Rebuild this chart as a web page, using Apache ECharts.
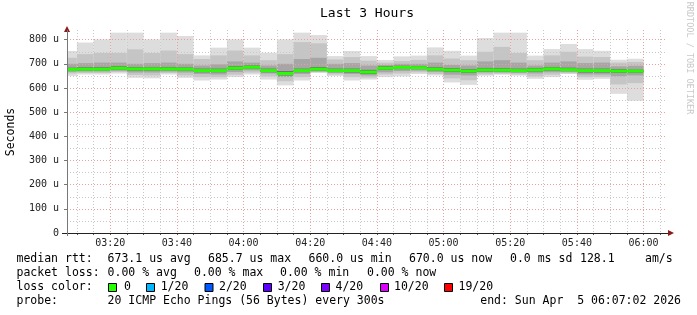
<!DOCTYPE html>
<html><head><meta charset="utf-8">
<script src="https://cdn.jsdelivr.net/npm/echarts@6/dist/echarts.min.js"></script>
<style>html,body{margin:0;padding:0;background:#fff}#c{width:697px;height:315px}</style>
</head><body><div id="c"></div>
<script>
// ---- data (microseconds) ----
const barEnd = ['03:10','03:15','03:20','03:25','03:30','03:35','03:40','03:45','03:50','03:55',
  '04:00','04:05','04:10','04:15','04:20','04:25','04:30','04:35','04:40','04:45',
  '04:50','04:55','05:00','05:05','05:10','05:15','05:20','05:25','05:30','05:35',
  '05:40','05:45','05:50','05:55','06:00'];
const maxV = [753,788,801,829,829,801,829,815,735,767,801,767,746,801,829,819,732,753,732,716,731,734,768,754,734,807,829,829,734,761,782,761,754,717,721];
const hi1  = [725,740,745,745,760,745,755,740,720,735,755,735,715,740,790,785,718,728,713,705,712,716,735,722,715,750,770,745,715,735,750,730,728,705,708];
const hi2  = [700,703,705,705,700,703,705,700,693,698,710,705,693,700,720,725,700,703,693,695,700,700,705,695,693,710,715,705,693,705,710,703,705,690,692];
const hi3  = [684,686,686,690,687,686,687,685,680,680,690,693,680,670,680,687,680,680,675,690,692,691,686,682,678,683,682,680,683,687,684,680,680,678,676];
const median = [677,678,678,682,679,679,679,678,672,672,682,686,672,660,672,678,672,672,666,682,685,684,678,674,670,675,674,672,675,679,676,672,672,670,670];
const lo3  = [672,672,672,676,672,672,673,672,665,665,675,680,665,652,665,672,666,664,658,675,678,678,672,666,662,668,668,666,668,672,670,664,664,662,663];
const lo2  = [666,668,668,671,664,664,668,664,658,656,666,673,660,645,658,668,662,658,652,665,670,672,666,655,652,664,664,662,660,665,666,656,656,648,652];
const lo1  = [660,662,662,666,654,652,662,652,645,645,655,664,648,628,645,665,656,645,643,656,660,665,658,640,632,656,659,656,648,655,661,645,646,615,620];
const minV = [650,656,656,660,642,640,656,642,631,635,645,656,635,611,631,663,650,631,635,645,648,658,652,623,613,651,655,651,638,645,658,634,638,576,547];

const xLabelTicks = ['03:20','03:40','04:00','04:20','04:40','05:00','05:20','05:40','06:00'];
const yTickValues = [0,100,200,300,400,500,600,700,800];
const yMinorValues = [50,150,250,350,450,550,650,750];
const startTime = '03:07:02', endTime = '06:07:02';
const stepMin = 5;

const medianStats = ['673.1 us avg','685.7 us max','660.0 us min','670.0 us now','0.0 ms sd','128.1','am/s'];
const lossStats = ['0.00 % avg','0.00 % max','0.00 % min','0.00 % now'];
const lossLabels = ['0','1/20','2/20','3/20','4/20','10/20','19/20'];
const lossColors = ['#26ff00','#00b8ff','#0059ff','#5e00ff','#7e00ff','#dd00ff','#ff0000'];
const probeText = '20 ICMP Echo Pings (56 Bytes) every 300s';
const endText = 'end: Sun Apr  5 06:07:02 2026';

// ---- helpers ----
function toMin(s){const p=s.split(':').map(Number);return p[0]*60+p[1]+(p[2]||0)/60;}
function fmt(v){const m=Math.round(v);const h=Math.floor(m/60),mm=m%60;return String(h).padStart(2,'0')+':'+String(mm).padStart(2,'0');}
const tStart=toMin(startTime), tEnd=toMin(endTime);
const xMinorTicks=[];for(let t=Math.ceil(tStart/stepMin)*stepMin;t<=tEnd;t+=stepMin)xMinorTicks.push(t);
const xLabelVals=xLabelTicks.map(toMin);

const smokeData = barEnd.map((t,i)=>[toMin(t),maxV[i],hi1[i],hi2[i],hi3[i],median[i],lo3[i],lo2[i],lo1[i],minV[i]]);
const medData = barEnd.map((t,i)=>[toMin(t),median[i]]);

const FONT='DejaVu Sans Mono';
const bands=[[1,9,'#dddddd'],[2,8,'#c5c5c5'],[3,7,'#a6a6a6'],[4,6,'#6f6f6f']];
function renderSmoke(params,api){
  const t=api.value(0);const cs=params.coordSys;const children=[];
  bands.forEach(b=>{
    const p1=api.coord([t-stepMin,api.value(b[0])]);const p2=api.coord([t,api.value(b[1])]);
    const r=echarts.graphic.clipRectByRect({x:p1[0],y:p1[1],width:p2[0]-p1[0],height:p2[1]-p1[1]},{x:cs.x,y:cs.y,width:cs.width,height:cs.height});
    if(r)children.push({type:'rect',shape:r,style:{fill:b[2]}});
  });
  return {type:'group',children};
}
function renderMedian(params,api){
  const t=api.value(0);const cs=params.coordSys;
  const p1=api.coord([t-stepMin,api.value(1)]);const p2=api.coord([t,api.value(1)]);
  const r=echarts.graphic.clipRectByRect({x:p1[0],y:p1[1]-1.5,width:p2[0]-p1[0],height:3},{x:cs.x,y:cs.y,width:cs.width,height:cs.height});
  return r?{type:'rect',shape:r,style:{fill:lossColors[0]}}:null;
}

const txt=(x,y,text,extra)=>Object.assign({type:'text',x,y,z:100,style:Object.assign({text,fontFamily:FONT,fontSize:11.5,fill:'#000',align:'left',verticalAlign:'middle'},extra||{})});
const gfx=[];
gfx.push(txt(367,14,'Last 3 Hours',{fontSize:13,align:'center'}));
gfx.push(Object.assign(txt(11,132,'Seconds',{fontSize:11.5,align:'center'}),{rotation:Math.PI/2}));
gfx.push(Object.assign(txt(689,58,'RRDTOOL / TOBI OETIKER',{fontSize:8.5,align:'center',fill:'#c8c8c8'}),{rotation:-Math.PI/2}));
// legend lines
const medX=[107.6,208,308.5,409,510,580,645];
gfx.push(txt(16.5,259.5,'median rtt:'));
medianStats.forEach((s,i)=>gfx.push(txt(medX[i],259.5,s)));
const lossX=[107.6,194,280,367];
gfx.push(txt(16.5,273.5,'packet loss:'));
lossStats.forEach((s,i)=>gfx.push(txt(lossX[i],273.5,s)));
gfx.push(txt(16.5,287.5,'loss color:'));
const boxX=[108.5,146.5,205,263.5,321.5,380.5,444.5];
const lblX=[124,160.7,219,277.7,335.5,394,458.5];
lossLabels.forEach((s,i)=>{
  gfx.push({type:'rect',z:100,shape:{x:boxX[i],y:283.5,width:8,height:8},style:{fill:lossColors[i],stroke:'#000',lineWidth:1}});
  gfx.push(txt(lblX[i],287.5,s));
});
gfx.push(txt(16.5,301.5,'probe:'));
gfx.push(txt(107.6,301.5,probeText));
gfx.push(txt(681,301.5,endText,{align:'right'}));
// axis arrows
gfx.push({type:'polygon',z:100,shape:{points:[[64,32],[70,32],[67,26]]},style:{fill:'#8b1a1a'}});
gfx.push({type:'polygon',z:100,shape:{points:[[668,230],[668,236],[674,233]]},style:{fill:'#8b1a1a'}});
gfx.push({type:'line',z:100,shape:{x1:62,y1:233.5,x2:668,y2:233.5},style:{stroke:'#222',lineWidth:1}});
gfx.push({type:'line',z:100,shape:{x1:67.5,y1:236,x2:67.5,y2:30},style:{stroke:'#777',lineWidth:1}});

const chart=echarts.init(document.getElementById('c'),null,{renderer:'canvas'});
chart.setOption({
  backgroundColor:'#ffffff',
  animation:false,
  grid:{left:67,right:30,top:30,bottom:82,containLabel:false},
  xAxis:[{
    type:'value',min:tStart,max:tEnd,z:3,
    axisLine:{show:false},
    axisTick:{show:true,customValues:xMinorTicks,length:2,lineStyle:{color:'#555'}},
    axisLabel:{customValues:xLabelVals,formatter:fmt,fontFamily:FONT,fontSize:10,color:'#222',margin:5},
    splitLine:{show:true,lineStyle:{color:'#c8c8c8',type:[1,2],width:1}}
  },{
    type:'value',min:tStart,max:tEnd,z:3,position:'bottom',
    axisLine:{show:false},axisLabel:{show:false},
    axisTick:{show:false,customValues:xLabelVals},
    splitLine:{show:true,lineStyle:{color:'#e6a0a0',type:[1,2],width:1}}
  }],
  yAxis:[{
    type:'value',min:0,max:840,z:3,
    axisLine:{show:false},
    axisTick:{show:true,customValues:yTickValues,length:3,lineStyle:{color:'#777'}},
    axisLabel:{customValues:yTickValues,formatter:v=>v===0?'0':v+' u',fontFamily:FONT,fontSize:10,color:'#222',margin:8},
    splitLine:{show:true,lineStyle:{color:'#e6a0a0',type:[1,2],width:1}}
  },{
    type:'value',min:0,max:840,z:3,
    axisLine:{show:false},axisLabel:{show:false},
    axisTick:{show:false,customValues:yMinorValues},
    splitLine:{show:true,lineStyle:{color:'#c8c8c8',type:[1,2],width:1}}
  }],
  series:[
    {type:'custom',name:'smoke',xAxisIndex:0,yAxisIndex:0,z:1,renderItem:renderSmoke,data:smokeData,silent:true},
    {type:'custom',name:'median',xAxisIndex:0,yAxisIndex:0,z:10,renderItem:renderMedian,data:medData,silent:true}
  ],
  graphic:gfx
});
</script></body></html>
